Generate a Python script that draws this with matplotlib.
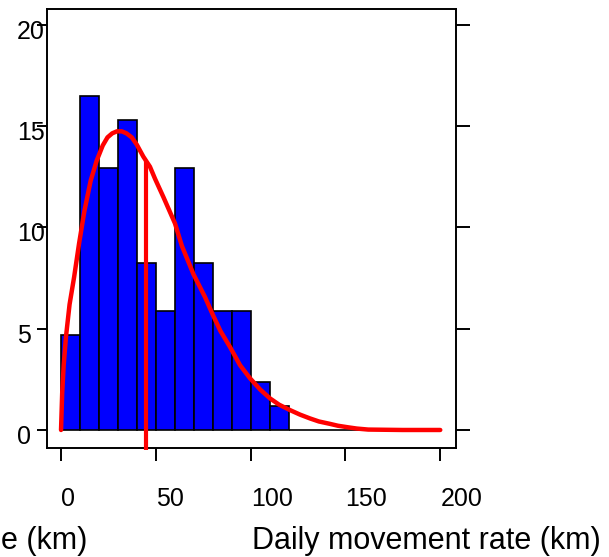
import matplotlib
matplotlib.use("Agg")
import matplotlib.pyplot as plt
import matplotlib.transforms as mtransforms
import numpy as np

plt.rcParams['font.family'] = ['Liberation Sans', 'DejaVu Sans']

# Histogram of daily movement rates (percent of observations per 10 km bin)
bin_edges = [0, 10, 20, 30, 40, 50, 60, 70, 80, 90, 100, 110, 120, 130, 140, 150, 160]
percent = [4.71, 16.47, 12.94, 15.29, 8.24, 5.88, 12.94, 8.24, 5.88, 5.88, 2.35, 1.18,
           0, 0, 0, 0]

# Fitted density curve (scaled to percent per bin)
curve_x = [0, 0.6, 1.4, 2.6, 4.5, 6.9, 9.5, 12.3, 15.6, 18.8, 22.0, 24.5, 27.0, 29.5,
           32.0, 34.5, 37.3, 39.9, 43.4, 46.9, 49.6, 54.0, 60.1, 63.7, 69.8, 75.9,
           80.0, 84.0, 89.1, 94.4, 99.7, 105.0, 110.2, 115.0, 120.8, 126.0, 131.3,
           136.0, 141.9, 146.0, 151.5, 156.0, 162.0, 180.0, 200.0]
curve_y = [0, 1.8, 3.2, 4.6, 6.2, 7.55, 9.2, 10.8, 12.3, 13.3, 14.05, 14.45, 14.65, 14.75,
           14.75, 14.65, 14.45, 14.1, 13.5, 13.0, 12.4, 11.5, 10.2, 9.1, 7.7, 6.57,
           5.7, 4.9, 4.1, 3.2, 2.55, 2.0, 1.56, 1.25, 0.98, 0.76, 0.57,
           0.42, 0.30, 0.21, 0.13, 0.07, 0.02, 0.0, 0.0]

# Mean daily movement rate marker
mean_rate = 45
mean_height = 13.3

x_ticks = [0, 50, 100, 150, 200]
y_ticks = [0, 5, 10, 15, 20]

W, H, DPI = 609, 557, 100
fig = plt.figure(figsize=(W / DPI, H / DPI), dpi=DPI)
ax = fig.add_axes([47 / W, 1 - 448 / H, (456 - 47) / W, (448 - 9) / H])

lefts = bin_edges[:-1]
widths = np.diff(bin_edges)
ax.bar(lefts, percent, width=widths, align='edge', color='#0000ff',
       edgecolor='black', linewidth=1.2, zorder=2)

ax.plot(curve_x, curve_y, color='#ff0000', lw=3.2, solid_joinstyle='round',
        solid_capstyle='round', zorder=3)
ax.plot([mean_rate, mean_rate], [-1.0, mean_height], color='#ff0000', lw=3.0,
        solid_capstyle='butt', zorder=3, clip_on=False)

ax.set_xlim(-7.4, 208.3)
ax.set_ylim(-0.89, 20.79)

for s in ax.spines.values():
    s.set_linewidth(1.4)

# Ticks: bottom and left outward, right ticks longer
ax.set_xticks(x_ticks)
ax.set_yticks(y_ticks)
ax.tick_params(axis='x', direction='out', length=9.5, width=1.4, labelbottom=False)
ax.tick_params(axis='y', direction='out', length=7.2, width=1.4, labelleft=False)

axr = ax.twinx()
axr.set_ylim(ax.get_ylim())
axr.set_yticks(y_ticks)
axr.tick_params(axis='y', direction='out', length=10, width=1.4, labelright=False)
for s in axr.spines.values():
    s.set_visible(False)

# Tick labels, left-aligned next to their ticks
fs = 18
xt = mtransforms.blended_transform_factory(ax.transData, ax.transAxes)
xoff = mtransforms.ScaledTranslation(0, -58 / DPI, fig.dpi_scale_trans)
for v in x_ticks:
    ax.text(v, 0, str(v), transform=xt + xoff, ha='left', va='baseline',
            fontsize=fs, clip_on=False)

yt = mtransforms.blended_transform_factory(ax.transAxes, ax.transData)
yoff = mtransforms.ScaledTranslation(-30 / DPI, -14 / DPI, fig.dpi_scale_trans)
for v in y_ticks:
    ax.text(0, v, str(v), transform=yt + yoff, ha='left', va='baseline',
            fontsize=fs, clip_on=False)

fig.text(252 / W, 1 - 549 / H, 'Daily movement rate (km)', ha='left', va='baseline',
         fontsize=22)
fig.text(1 / W, 1 - 549 / H, 'e (km)', ha='left', va='baseline', fontsize=22)

fig.savefig('out.png', dpi=DPI)
